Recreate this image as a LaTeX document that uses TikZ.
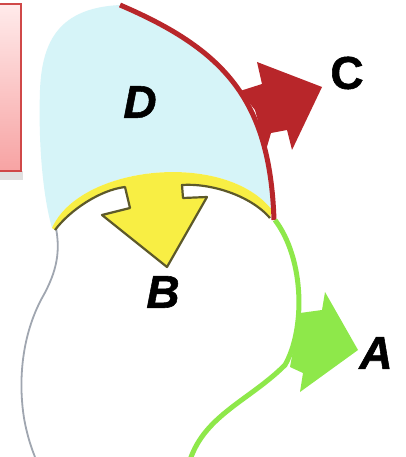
\documentclass[tikz,border=0pt]{standalone}
\usepackage{fontspec}
\setmainfont{Liberation Sans}[BoldFeatures={FakeBold=1.2},BoldItalicFeatures={FakeBold=1.2}]
\begin{document}
\begin{tikzpicture}[x=1pt,y=-1pt,
  lbl/.style={font=\fontsize{46}{46}\selectfont\bfseries\itshape, text=black, inner sep=0pt},
  redline/.style={draw=arrowred, line width=5pt},
  greenline/.style={draw=leafgreen, line width=5pt},
  outline/.style={draw=olive!55!black, line width=2.2pt, line join=round}]
\definecolor{arrowred}{HTML}{B8262A}
\definecolor{leafgreen}{HTML}{8EE84A}
\definecolor{skyblue}{HTML}{D6F4F8}
\definecolor{sunyellow}{HTML}{F8EE44}
\definecolor{boxpink}{HTML}{F7A3A3}
\definecolor{boxborder}{HTML}{D04848}
\definecolor{edgegrey}{HTML}{A0A6B0}
\useasboundingbox (0,0) rectangle (405,457);
\fill[white] (0,0) rectangle (405,457);
% pink box with shadow
\fill[black!12] (-3,171) rectangle (23,180);
\shade[top color=red!8, bottom color=boxpink, draw=boxborder, line width=1.2pt] (-3,4) rectangle (21,171);
% blue region D
\fill[skyblue] (120,5) .. controls (225,50) and (270,100) .. (273,215)
  -- (272,210) .. controls (225,150) and (80,165) .. (52,228)
  .. controls (44,200) and (38,150) .. (40,90)
  .. controls (42,40) and (60,8) .. (120,5) -- cycle;
% grey outline left
\draw[edgegrey, line width=1.8pt] (56,228) .. controls (60,250) and (58,270) .. (42,298)
  .. controls (22,335) and (18,380) .. (24,418) .. controls (27,435) and (31,447) .. (35,457);
% yellow band with arrow
\fill[sunyellow] (52,228) .. controls (80,165) and (225,150) .. (272,210)
  -- (270,218) .. controls (250,195) and (210,183) .. (182,185)
  -- (183,198) -- (207,197) -- (167,267) -- (102,215) -- (130,208) -- (125,187)
  .. controls (100,190) and (70,210) .. (55,230) -- cycle;
\draw[outline] (270,218) .. controls (250,195) and (210,183) .. (182,185)
  -- (183,198) -- (207,197) -- (167,267) -- (102,215) -- (130,208) -- (125,187)
  .. controls (100,190) and (70,210) .. (55,230);
% red curve and arrow
\draw[redline] (120,5) .. controls (225,50) and (270,100) .. (274,220);
\fill[arrowred] (240,91) -- (262,84) -- (257,62) -- (322,87) -- (292,150) -- (287,130)
  -- (271,133) -- (266,150) -- (255,110) -- cycle;
% green curve and arrow
\draw[greenline] (275,220) .. controls (305,260) and (305,330) .. (285,365)
  .. controls (250,400) and (205,415) .. (190,460);
\fill[leafgreen] (300,313) -- (322,310) -- (325,292) -- (358,350) -- (300,392)
  -- (303,373) -- (290,367) -- cycle;
% labels
\node[lbl] (D) at (140,102) {D};
\node[lbl, font=\fontsize{46}{46}\selectfont\bfseries] (C) at (347,73) {C};
\node[lbl] (B) at (163,292) {B};
\node[lbl] (A) at (376,353) {A};
\end{tikzpicture}
\end{document}
